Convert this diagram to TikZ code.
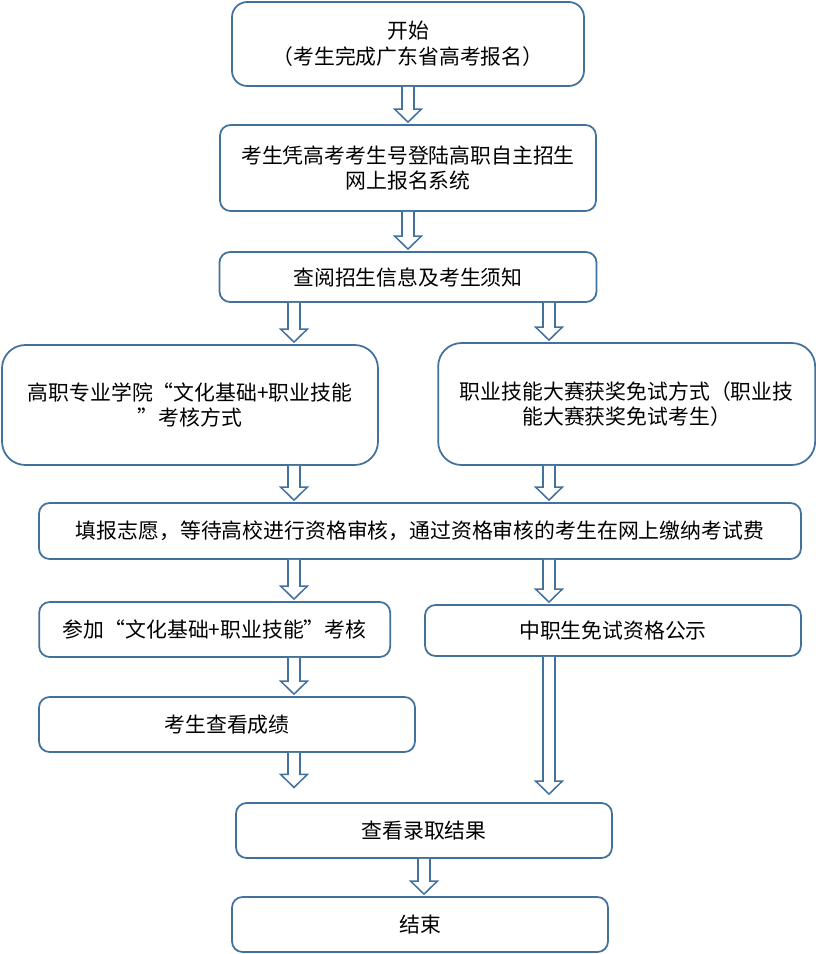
\documentclass[tikz,border=0pt]{standalone}
\usepackage{fontspec}
\newfontfamily\cjk{Noto Sans CJK SC}
\usetikzlibrary{calc}
\definecolor{flowblue}{HTML}{41719C}
\tikzstyle{stepbox} = [rectangle, rounded corners=9pt, minimum width=11.28cm, minimum height=1.65cm, inner sep=0pt, align=center, draw=flowblue, line width=1.5pt, font=\cjk\fontsize{17.8}{22}\selectfont]
\tikzstyle{bigbox} = [stepbox, rounded corners=20pt, minimum height=3.6cm]
\tikzstyle{arrow} = [draw=flowblue, line width=1.3pt, fill=white, line join=miter]
% hollow block arrow from #1 down to #2
\newcommand{\blockarrow}[2]{%
  \draw[arrow] let \p1=(#1), \p2=(#2) in
    (\x1-0.18cm,\y1) -- (\x1-0.18cm,\y2+0.45cm) -- (\x1-0.4cm,\y2+0.45cm) -- (\x1,\y2+0.06cm)
    -- (\x1+0.4cm,\y2+0.45cm) -- (\x1+0.18cm,\y2+0.45cm) -- (\x1+0.18cm,\y1);
}

\begin{document}
\begin{tikzpicture}[node distance=2cm]
	\useasboundingbox (0,0) rectangle (24.48,-28.62);

	\node (start) [stepbox, minimum width=10.56cm, minimum height=2.52cm, rounded corners=13pt] at (12.24,-1.32) {开始\\（考生完成广东省高考报名）};
	\node (login) [stepbox, minimum height=2.58cm, below of=start, yshift=-1.72cm] {考生凭高考考生号登陆高职自主招生\\网上报名系统};
	\node (notice) [stepbox, minimum width=11.31cm, minimum height=1.5cm, below of=login, yshift=-1.27cm] {查阅招生信息及考生须知};
	\node (left) [bigbox, below of=notice, xshift=-6.54cm, yshift=-1.84cm] {高职专业学院“文化基础+职业技能\\”考核方式};
	\node (right) [bigbox, minimum width=11.31cm, minimum height=3.66cm, right of=left, xshift=11.1cm, yshift=0.03cm] {职业技能大赛获奖免试方式（职业技\\能大赛获奖免试考生）};
	\node (apply) [stepbox, minimum width=22.86cm, minimum height=1.68cm, below of=notice, xshift=0.36cm, yshift=-5.62cm] {填报志愿，等待高校进行资格审核，通过资格审核的考生在网上缴纳考试费};
	\node (exam) [stepbox, minimum width=10.53cm, below of=apply, xshift=-6.16cm, yshift=-0.955cm] {参加“文化基础+职业技能”考核};
	\node (public) [stepbox, minimum height=1.53cm, right of=exam, xshift=9.95cm, yshift=-0.03cm] {中职生免试资格公示};
	\node (score) [stepbox, below of=exam, xshift=0.37cm, yshift=-0.85cm] {考生查看成绩};
	\node (result) [stepbox, below of=apply, xshift=0.12cm, yshift=-6.985cm] {查看录取结果};
	\node (end) [stepbox, below of=result, xshift=-0.12cm, yshift=-0.82cm] {结束};

	\coordinate (colL) at (8.82,0);
	\coordinate (colR) at (16.47,0);

	\blockarrow{start.south}{start.south |- login.north}
	\blockarrow{login.south}{login.south |- notice.north}
	\blockarrow{colL |- notice.south}{colL |- left.north}
	\blockarrow{colR |- notice.south}{colR |- right.north}
	\blockarrow{colL |- left.south}{colL |- apply.north}
	\blockarrow{colR |- right.south}{colR |- apply.north}
	\blockarrow{colL |- apply.south}{colL |- exam.north}
	\blockarrow{colR |- apply.south}{colR |- public.north}
	\blockarrow{colL |- exam.south}{colL |- score.north}
	\blockarrow{colL |- score.south}{$(colL |- result.north)+(0,0.38)$}
	\blockarrow{colR |- public.south}{$(colR |- result.north)+(0,0.18)$}
	\blockarrow{result.south}{result.south |- end.north}
\end{tikzpicture}
\end{document}
